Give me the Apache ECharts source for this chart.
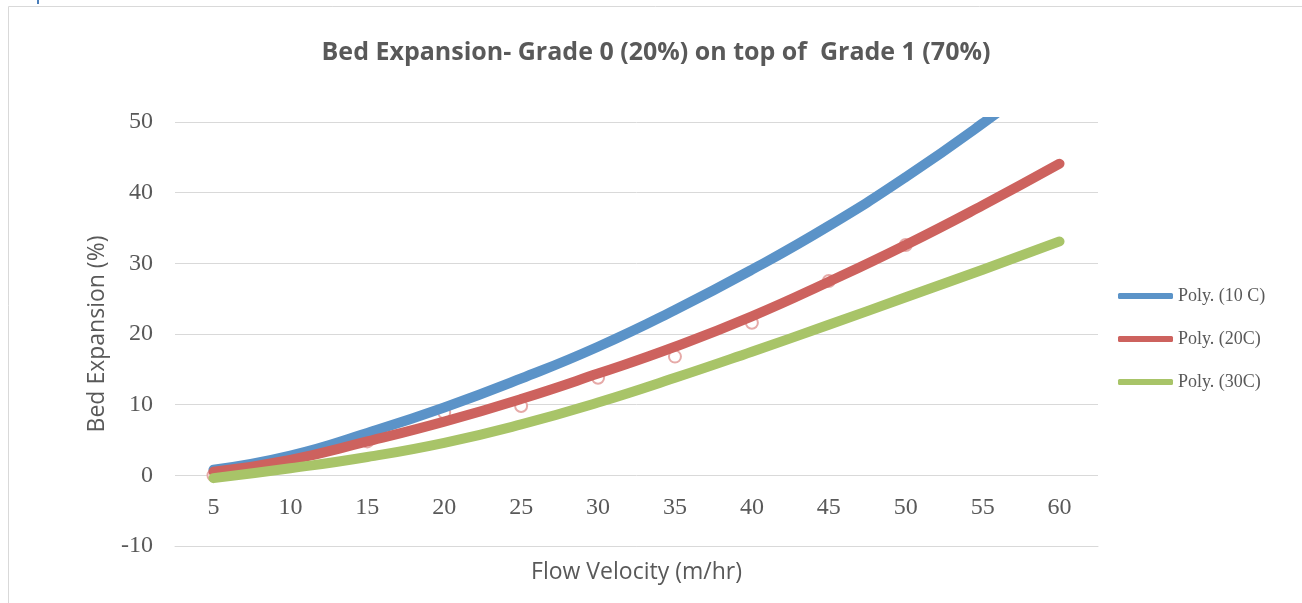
<!DOCTYPE html>
<html><head><meta charset="utf-8">
<script src="https://cdn.jsdelivr.net/npm/echarts@6/dist/echarts.min.js"></script>
<style>html,body{margin:0;padding:0;background:#fff}#c{width:1302px;height:603px}</style>
</head><body><div id="c"></div>
<script>
// Flow velocity categories (m/hr)
const velocities = ['5','10','15','20','25','30','35','40','45','50','55','60'];
// Polynomial trend lines (Bed Expansion %)
const poly10C = [0.8, 2.8, 6.0, 9.6, 13.7, 18.2, 23.4, 29.1, 35.3, 42.2, 49.8, 58.0];
const poly20C = [0.5, 2.2, 4.8, 7.6, 10.8, 14.4, 18.2, 22.5, 27.4, 32.6, 38.2, 44.1];
const poly30C = [-0.4, 1.0, 2.6, 4.6, 7.2, 10.3, 13.8, 17.5, 21.3, 25.2, 29.1, 33.1];
// Measured 20C data points (mostly hidden under the trend lines)
const data20C = [0, 2.2, 4.8, 8.9, 9.8, 13.8, 16.8, 21.6, 27.5, 32.6, null, null];
const seriesNames = ['Poly. (10 C)', 'Poly. (20C)', 'Poly. (30C)'];

const TXT = '#595959';
const chart = echarts.init(document.getElementById('c'));
const trend = (name, data, color) => ({
  name, type: 'line', data, smooth: true, showSymbol: false, symbol: 'none',
  clip: true, color, z: 5,
  lineStyle: { width: 10, color, cap: 'round', join: 'round' },
  emphasis: { disabled: true }
});
chart.setOption({
  animation: false,
  graphic: [
    { type: 'rect', shape: { x: 8.5, y: 6.5, width: 1400, height: 700 },
      style: { fill: 'none', stroke: '#d9d9d9', lineWidth: 1 }, silent: true },
    { type: 'rect', shape: { x: 37, y: 0, width: 2, height: 4 },
      style: { fill: '#4a7ebb' }, silent: true }
  ],
  title: {
    text: 'Bed Expansion- Grade 0 (20%) on top of  Grade 1 (70%)',
    left: 656, top: 40, textAlign: 'center', padding: 0,
    textStyle: { fontFamily: 'Open Sans', fontWeight: 'bold', fontSize: 25, color: TXT }
  },
  legend: {
    data: seriesNames, orient: 'vertical', left: 1118, top: 287, padding: 0,
    itemWidth: 55, itemHeight: 6, itemGap: 25, icon: 'roundRect',
    textStyle: { fontFamily: 'Liberation Serif', fontSize: 18, lineHeight: 18, color: TXT }
  },
  grid: { left: 175, right: 204, top: 122, bottom: 57, containLabel: false, outerBoundsMode: 'none' },
  xAxis: {
    type: 'category', data: velocities, boundaryGap: true,
    name: 'Flow Velocity (m/hr)', nameLocation: 'middle', nameGap: 15,
    nameTextStyle: { fontFamily: 'Open Sans', fontSize: 23, color: TXT },
    axisLine: { onZero: false, lineStyle: { color: '#d9d9d9', width: 1 } },
    axisTick: { show: false },
    axisLabel: { interval: 0, margin: -50, fontFamily: 'Liberation Serif', fontSize: 24, color: TXT }
  },
  yAxis: {
    type: 'value', min: -10, max: 50, interval: 10,
    name: 'Bed Expansion (%)', nameLocation: 'middle', nameGap: 66,
    nameTextStyle: { fontFamily: 'Open Sans', fontSize: 23, color: TXT },
    axisLine: { show: false }, axisTick: { show: false },
    axisLabel: { margin: 22, fontFamily: 'Liberation Serif', fontSize: 24, color: TXT },
    splitLine: { lineStyle: { color: '#d9d9d9', width: 1 } }
  },
  series: [
    { name: '20C', type: 'line', data: data20C, symbol: 'emptyCircle', symbolSize: 12,
      showAllSymbol: true, clip: true, color: '#e6aaa8', z: 1,
      itemStyle: { color: '#e6aaa8', borderColor: '#e6aaa8', borderWidth: 1 },
      lineStyle: { width: 1, color: '#df8f8c', opacity: 0 }, emphasis: { disabled: true } },
    trend(seriesNames[0], poly10C, '#5b93c8'),
    trend(seriesNames[1], poly20C, '#cd625e'),
    trend(seriesNames[2], poly30C, '#a8c468')
  ]
});
</script>
</body></html>
